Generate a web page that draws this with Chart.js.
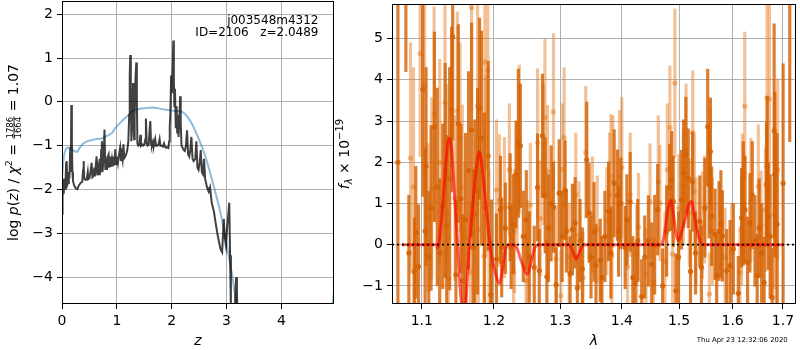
<!DOCTYPE html>
<html><head><meta charset="utf-8">
<script src="https://cdn.jsdelivr.net/npm/chart.js@4"></script>
<style>
html,body{margin:0;padding:0;background:#fff;}
#w{position:relative;width:800px;height:350px;overflow:hidden;background:#fff;}
#c1{position:absolute;left:0;top:0;}
#c2{position:absolute;left:335px;top:0;}
</style></head>
<body><div id="w"><canvas id="c1" width="340" height="350"></canvas><canvas id="c2" width="465" height="350"></canvas></div>
<script>
// ---------- left panel: log p(z) ----------
const zChi = [0.000,0.010,0.020,0.030,0.045,0.060,0.075,0.085,0.095,0.110,0.125,0.135,0.150,0.160,0.170,0.180,0.190,0.200,0.220,0.250,0.280,0.310,0.340,0.370,0.385,0.395,0.405,0.430,0.450,0.470,0.480,0.500,0.520,0.540,0.555,0.570,0.590,0.600,0.630,0.645,0.660,0.675,0.690,0.700,0.715,0.727,0.740,0.760,0.775,0.790,0.805,0.820,0.835,0.850,0.860,0.880,0.890,0.910,0.925,0.940,0.955,0.970,0.985,1.000,1.020,1.040,1.060,1.075,1.090,1.105,1.120,1.135,1.150,1.170,1.190,1.210,1.225,1.235,1.245,1.255,1.265,1.280,1.295,1.305,1.315,1.325,1.340,1.355,1.365,1.375,1.390,1.410,1.430,1.440,1.460,1.480,1.500,1.520,1.530,1.545,1.560,1.580,1.600,1.610,1.625,1.640,1.660,1.675,1.700,1.715,1.740,1.760,1.780,1.795,1.820,1.840,1.860,1.880,1.900,1.920,1.940,1.955,1.965,1.975,1.990,2.005,2.020,2.030,2.040,2.050,2.060,2.075,2.090,2.100,2.115,2.125,2.140,2.155,2.165,2.180,2.200,2.220,2.240,2.260,2.280,2.300,2.320,2.340,2.360,2.380,2.400,2.430,2.450,2.470,2.490,2.510,2.530,2.550,2.570,2.590,2.610,2.645,2.660,2.680,2.700,2.730,2.770,2.800,2.840,2.890,2.920,2.950,2.970,2.990,3.010,3.050,3.065,3.080,3.140,3.160,3.175,3.190,3.210,3.300];
const logpChi = [-2.55,-2.20,-1.75,-2.10,-1.85,-2.00,-1.40,-1.35,-1.90,-1.85,-1.60,-1.75,-1.05,-1.60,-0.07,-0.90,-1.60,-1.80,-1.90,-1.97,-1.99,-1.90,-1.85,-1.82,-1.55,-1.35,-1.75,-1.78,-1.77,-1.60,-1.76,-1.74,-1.60,-1.39,-1.72,-1.70,-1.50,-1.70,-1.24,-1.68,-1.50,-1.65,-1.30,-1.62,-1.10,-0.90,-1.60,-1.20,-0.63,-1.55,-1.40,-1.55,-1.25,-1.20,-1.50,-1.25,-1.48,-1.30,-1.47,-1.25,-1.45,-1.08,-1.42,-1.25,-1.40,-1.20,-1.05,-1.35,-1.20,-1.32,-0.97,-1.28,-1.25,-1.20,-1.10,-0.90,-0.30,0.60,1.07,0.00,-0.90,-0.50,0.43,-0.20,-0.85,-0.30,0.55,0.90,0.00,-0.95,-1.00,-0.98,-0.75,-1.00,-0.97,-1.00,-0.98,-0.85,-0.38,-0.95,-1.00,-0.98,-0.60,-0.44,-0.98,-1.00,-0.90,-1.00,-0.85,-1.00,-1.00,-0.97,-0.85,-1.00,-1.00,-1.02,-0.95,-1.03,-1.05,-1.03,-1.05,-0.90,-0.55,-0.30,0.60,0.20,0.90,1.40,0.50,-0.10,0.30,-0.60,-0.10,-0.70,-0.30,-0.80,-0.40,0.13,-0.50,-1.00,-1.05,-1.10,-1.12,-1.00,-0.65,-1.20,-1.25,-1.10,-0.80,-1.30,-1.35,-1.30,-0.90,-1.50,-1.55,-1.40,-1.10,-1.60,-1.65,-1.30,-1.75,-1.95,-2.00,-2.03,-1.95,-2.30,-2.50,-2.75,-3.05,-3.36,-3.43,-2.67,-3.10,-3.28,-2.90,-2.30,-3.50,-4.80,-5.50,-4.40,-4.00,-4.30,-5.50,-6.50];
const zPrior = [0.00,0.02,0.04,0.07,0.10,0.15,0.20,0.25,0.28,0.32,0.38,0.45,0.55,0.65,0.72,0.78,0.85,0.92,0.97,1.03,1.09,1.15,1.20,1.25,1.30,1.38,1.45,1.55,1.65,1.72,1.80,1.90,2.00,2.10,2.18,2.24,2.30,2.37,2.43,2.50,2.56,2.62,2.68,2.74,2.80,2.86,2.91,2.95,3.00,3.05,3.10,3.14,3.20,3.30,4.00,4.90,4.96];
const logpPrior = [-1.75,-1.40,-1.20,-1.08,-1.04,-1.05,-1.10,-1.14,-1.14,-1.05,-0.96,-0.90,-0.87,-0.84,-0.84,-0.80,-0.76,-0.70,-0.60,-0.52,-0.44,-0.37,-0.32,-0.25,-0.20,-0.17,-0.15,-0.14,-0.13,-0.14,-0.16,-0.18,-0.20,-0.21,-0.22,-0.27,-0.36,-0.50,-0.66,-0.86,-1.05,-1.27,-1.52,-1.80,-2.08,-2.37,-2.65,-2.90,-3.22,-3.58,-3.93,-4.27,-4.70,-5.50,-9.00,-5.20,-4.30];
const zTicks = [0,1,2,3,4];
const logpTicks = [-4,-3,-2,-1,0,1,2];

// ---------- right panel: spectrum ----------
const lamDark = [1.0688,1.0791,1.0830,1.0904,1.0921,1.0956,1.1013,1.1044,1.1057,1.1093,1.1124,1.1169,1.1207,1.1240,1.1281,1.1315,1.1335,1.1376,1.1403,1.1417,1.1462,1.1495,1.1531,1.1555,1.1596,1.1638,1.1680,1.1704,1.1726,1.1765,1.1793,1.1821,1.1864,1.1917,1.1954,1.1964,1.2036,1.2094,1.2112,1.2166,1.2236,1.2251,1.2285,1.2324,1.2358,1.2388,1.2432,1.2477,1.2522,1.2597,1.2647,1.2673,1.2723,1.2764,1.2790,1.2815,1.2856,1.2892,1.2934,1.2981,1.3028,1.3075,1.3095,1.3153,1.3190,1.3233,1.3269,1.3312,1.3349,1.3420,1.3457,1.3489,1.3538,1.3570,1.3640,1.3668,1.3717,1.3778,1.3816,1.3871,1.3928,1.3945,1.3983,1.4056,1.4085,1.4141,1.4186,1.4225,1.4271,1.4339,1.4391,1.4455,1.4513,1.4565,1.4618,1.4705,1.4776,1.4829,1.4865,1.4895,1.4942,1.4990,1.5044,1.5081,1.5123,1.5167,1.5208,1.5245,1.5300,1.5378,1.5409,1.5474,1.5526,1.5552,1.5577,1.5601,1.5665,1.5695,1.5740,1.5775,1.5804,1.5886,1.5951,1.6014,1.6110,1.6174,1.6208,1.6241,1.6291,1.6338,1.6383,1.6436,1.6481,1.6520,1.6570,1.6620,1.6666,1.6680,1.6700,1.6740,1.6780,1.6821,1.6835,1.6882,1.7004,1.7140];
const fluxDark = [2.0,6.6,-0.2,-0.65,0.3,-0.53,3.77,0.33,1.9,-0.3,0.89,2.86,1.4,-0.2,0.93,1.8,0.45,1.6,3.28,5.04,-0.73,2.94,1.12,-0.87,0.6,1.8,2.78,-0.07,0.73,1.3,3.3,2.58,0.9,2.15,-1.21,-0.51,-0.35,0.85,-0.07,0.4,0.91,-0.07,0.5,1.7,2.46,2.4,0.2,0.6,-0.3,-0.55,1.39,-0.63,2.64,1.2,-0.78,0.4,1.0,0.91,-0.97,1.25,0.2,1.32,0.33,-0.71,0.37,0.53,-1.05,0.1,-0.59,2.06,0.77,-0.3,0.31,-0.5,-0.38,-0.8,0.2,0.81,-0.2,1.49,1.2,0.33,1.0,-0.07,0.6,1.04,-0.8,-0.95,0.1,-1.26,-0.3,0.09,-0.47,0.0,0.85,-1.0,0.33,1.38,1.55,1.05,-1.12,-0.3,1.09,1.73,2.18,1.61,-0.65,1.53,-0.2,0.57,-0.55,0.9,2.86,1.46,2.26,0.69,0.25,-0.75,0.33,0.5,0.21,-0.63,-0.51,-0.1,-1.18,0.65,1.0,0.85,-0.43,0.53,1.2,0.09,-0.75,0.4,-0.2,-0.92,1.46,1.9,0.69,0.2,-1.28,2.76,1.7,0.5,1.49,6.0];
const errDark = [5.5,2.4,1.4,1.3,1.6,1.5,2.6,2.0,2.4,1.6,2.0,2.3,2.4,1.8,2.0,2.6,2.2,2.7,2.0,2.5,1.8,2.4,1.8,1.6,2.1,2.4,2.6,1.9,2.3,2.5,2.2,2.6,2.3,2.3,1.3,1.6,1.1,1.3,1.2,1.1,1.3,1.0,1.2,1.3,1.8,1.5,1.1,1.2,1.1,1.0,1.3,1.0,1.5,1.4,0.9,1.3,1.4,1.1,0.9,1.3,1.1,1.2,1.0,0.9,1.1,1.1,0.8,1.0,1.0,1.4,1.2,1.0,1.2,1.0,1.0,1.0,1.1,1.2,1.1,1.3,1.1,1.1,1.1,1.0,1.1,1.2,1.0,1.0,1.0,0.9,1.0,1.1,1.0,1.2,1.1,0.9,1.1,1.05,1.2,1.1,0.9,1.1,1.2,1.3,1.4,1.2,1.0,1.2,1.0,1.1,1.0,1.2,1.4,1.3,1.3,1.2,1.1,1.0,1.2,1.3,1.1,1.0,1.1,1.1,0.9,1.2,1.5,1.3,1.1,1.2,1.3,1.1,1.0,1.2,1.2,1.1,1.5,1.7,1.3,1.5,1.2,2.6,2.0,2.2,2.9,3.5];
const lamLight = [1.0852,1.0891,1.0978,1.1036,1.1080,1.1133,1.1164,1.1240,1.1312,1.1342,1.1358,1.1449,1.1482,1.1518,1.1551,1.1583,1.1666,1.1680,1.1765,1.1775,1.1857,1.1869,1.1883,1.1911,1.1928,1.2036,1.2079,1.2152,1.2225,1.2288,1.2299,1.2339,1.2373,1.2472,1.2497,1.2537,1.2648,1.2688,1.2738,1.2760,1.2800,1.2892,1.2934,1.3007,1.3032,1.3059,1.3138,1.3244,1.3296,1.3360,1.3404,1.3510,1.3591,1.3749,1.3794,1.3816,1.3833,1.3849,1.3961,1.4000,1.4096,1.4141,1.4254,1.4284,1.4414,1.4483,1.4542,1.4629,1.4658,1.4746,1.4789,1.4835,1.4883,1.4924,1.4995,1.5077,1.5126,1.5186,1.5249,1.5278,1.5310,1.5428,1.5465,1.5558,1.5572,1.5615,1.5855,1.5981,1.6142,1.6174,1.6188,1.6235,1.6357,1.6503,1.6556,1.6644,1.6677,1.6725,1.6826,1.6858,1.6892];
const fluxLight = [2.1,1.4,4.64,3.88,0.65,1.37,3.17,2.0,3.45,1.7,-0.83,1.13,3.25,2.6,1.39,0.2,-0.67,5.75,3.37,0.37,-0.27,4.43,1.9,4.23,-0.08,1.33,1.07,0.9,1.82,-0.67,0.33,1.5,2.56,-0.87,-0.23,0.96,2.47,0.64,2.18,3.08,1.78,3.22,-0.35,-1.24,1.82,2.6,-0.3,1.21,0.23,-0.8,2.24,0.73,0.37,0.57,1.21,1.66,-0.27,1.53,1.66,1.87,-0.55,1.21,-0.23,0.43,-0.71,1.05,-0.92,1.53,1.01,-0.4,1.82,2.84,-0.23,3.92,0.89,1.41,2.3,0.77,2.72,1.29,0.33,0.47,0.85,-1.2,1.78,0.33,-0.31,-0.19,-0.67,0.33,1.19,3.36,1.08,1.41,0.49,0.85,3.56,3.53,0.73,0.49,1.82];
const errLight = [2.8,2.9,2.5,2.3,1.8,2.2,2.6,2.5,2.4,2.2,1.7,2.0,2.4,2.3,2.0,1.8,1.7,2.5,2.6,2.0,1.8,2.5,2.2,2.4,1.9,1.7,1.6,1.7,1.6,1.2,1.5,1.5,1.8,1.2,1.3,1.5,1.8,1.4,1.7,1.9,1.6,1.9,1.3,1.1,1.6,1.7,1.3,1.5,1.3,1.1,1.6,1.4,1.3,1.3,1.5,1.5,1.2,1.6,1.6,1.7,1.2,1.5,1.2,1.3,1.1,1.4,1.1,1.6,1.4,1.2,1.6,1.5,1.3,1.8,1.3,1.4,1.6,1.3,1.5,1.4,1.3,1.3,1.3,1.0,1.5,1.3,1.2,1.2,1.1,1.3,1.5,1.8,1.5,1.5,1.3,1.5,2.3,2.4,1.8,1.9,2.2];
const lamModel = [1.0739,1.1200,1.1213,1.1254,1.1308,1.1349,1.1376,1.1403,1.1444,1.1486,1.1527,1.1569,1.1596,1.1638,1.1694,1.1751,1.1793,1.1835,1.1893,1.1950,1.2022,1.2079,1.2123,1.2181,1.2225,1.2284,1.2328,1.2402,1.2492,1.2552,1.2613,1.2673,1.3138,1.3185,1.3248,1.3312,1.3376,1.4670,1.4723,1.4793,1.4847,1.4901,1.4955,1.4990,1.5044,1.5117,1.5172,1.5226,1.5281,1.5355,1.5428,1.7004];
const fluxModel = [0,0,-0.08,0.4,1.6,2.45,2.58,2.3,1.2,0.0,-1.2,-1.75,-1.5,-0.3,0.9,1.9,2.25,1.8,0.8,-0.1,-0.7,-0.95,-0.6,-0.05,0,0,-0.05,-0.4,-0.72,-0.4,-0.05,0,0,-0.12,-0.35,-0.15,0,0,0.15,0.8,1.08,0.7,0.2,0.1,0.3,0.65,0.95,1.05,0.7,0.2,0,0];
const lamTicks = [1.1,1.2,1.3,1.4,1.5,1.6,1.7];
const fluxTicks = [-1,0,1,2,3,4,5];

Chart.defaults.font.family = "'DejaVu Sans'";
Chart.defaults.font.size = 14;
Chart.defaults.color = '#000';

const minus = v => (v < 0 ? '\u2212' : '') + Math.abs(v);
const gridOpt = {color:'#b0b0b0', lineWidth:1, tickLength:5, tickColor:'#000', tickWidth:1, drawTicks:true};
const fitX = s => { s.height = 46; s.paddingLeft = 0; s.paddingRight = 0; };
const fitY = w => s => { s.width = w; s.paddingTop = 0; s.paddingBottom = 0; };

function drawParts(ctx, cx, cy, parts, rotate) {
  ctx.save();
  ctx.translate(cx, cy);
  if (rotate) ctx.rotate(-Math.PI/2);
  ctx.textBaseline = 'alphabetic';
  ctx.fillStyle = '#000';
  let total = 0;
  for (const p of parts) {
    ctx.font = p.f;
    p.w = p.frac ? Math.max(ctx.measureText(p.frac[0]).width, ctx.measureText(p.frac[1]).width) + 2 : ctx.measureText(p.t).width;
    total += p.w;
  }
  let x = -total/2;
  for (const p of parts) {
    ctx.font = p.f;
    if (p.frac) {
      ctx.textAlign = 'center';
      ctx.fillText(p.frac[0], x + p.w/2, p.ny);
      ctx.fillText(p.frac[1], x + p.w/2, p.dy2);
      ctx.fillRect(x + 0.5, p.by - 0.4, p.w - 1, 0.8);
    } else {
      ctx.textAlign = 'left';
      ctx.fillText(p.t, x, p.dy || 0);
    }
    x += p.w;
  }
  ctx.restore();
}

const R = "14px 'DejaVu Sans'", I = "oblique 14px 'DejaVu Sans'";

const leftPlugin = {
  id: 'leftDeco',
  afterDraw(chart) {
    const ctx = chart.ctx, a = chart.chartArea;
    ctx.save();
    ctx.strokeStyle = '#000'; ctx.lineWidth = 1;
    ctx.strokeRect(a.left + 0.5, a.top + 0.5, a.right - a.left - 1, a.bottom - a.top - 1);
    ctx.fillStyle = '#000';
    ctx.font = "12px 'DejaVu Sans'";
    ctx.textAlign = 'right'; ctx.textBaseline = 'alphabetic';
    ctx.fillText('j003548m4312', 318.5, 24.3);
    ctx.fillText('ID=2106   z=2.0489', 318.5, 36);
    ctx.restore();
    drawParts(ctx, (a.left + a.right)/2, 345, [{t:'z', f:I}], false);
    drawParts(ctx, 18, (a.top + a.bottom)/2, [
      {t:'log ', f:R}, {t:'p', f:I}, {t:'(', f:R}, {t:'z', f:I}, {t:')', f:R}, {t:' / ', f:R},
      {t:'\u03C7', f:I}, {t:'2', f:"9.5px 'DejaVu Sans'", dy:-6}, {t:' = ', f:R},
      {frac:['1786','1664'], f:"8.5px 'DejaVu Sans'", ny:-5.3, dy2:3.2, by:-4},
      {t:' = 1.07', f:R}
    ], true);
  }
};

const rightPlugin = {
  id: 'rightDeco',
  afterDraw(chart) {
    const ctx = chart.ctx, a = chart.chartArea;
    ctx.save();
    ctx.strokeStyle = '#000'; ctx.lineWidth = 1;
    ctx.strokeRect(a.left + 0.5, a.top + 0.5, a.right - a.left - 1, a.bottom - a.top - 1);
    ctx.fillStyle = '#000';
    ctx.font = "6.9px 'DejaVu Sans'";
    ctx.textAlign = 'right'; ctx.textBaseline = 'alphabetic';
    ctx.fillText('Thu Apr 23 12:32:06 2020', 787.7 - 335, 341.5);
    ctx.restore();
    drawParts(ctx, (a.left + a.right)/2, 345, [{t:'\u03BB', f:I}], false);
    drawParts(ctx, 349 - 335, (a.top + a.bottom)/2, [
      {t:'f', f:I}, {t:'\u03BB', f:"oblique 10px 'DejaVu Sans'", dy:3},
      {t:' \u00D7 10', f:R}, {t:'\u221219', f:"10px 'DejaVu Sans'", dy:-6}
    ], true);
  }
};

new Chart(document.getElementById('c1'), {
  type: 'line',
  data: { datasets: [
    { data: zChi.map((z,i)=>({x:z, y:logpChi[i]})), borderColor:'rgba(0,0,0,0.75)', borderWidth:2, pointRadius:0, tension:0, order:0 },
    { data: zPrior.map((z,i)=>({x:z, y:logpPrior[i]})), borderColor:'rgba(31,119,180,0.5)', borderWidth:2, pointRadius:0, tension:0, order:1 }
  ]},
  options: {
    responsive:false, animation:false, events:[],
    layout:{padding:{top:1, right:6, left:0, bottom:0}},
    plugins:{legend:{display:false}, tooltip:{enabled:false}},
    scales:{
      x:{type:'linear', min:0, max:4.96, grid:gridOpt, border:{display:false},
         afterBuildTicks:s=>{s.ticks = zTicks.map(v=>({value:v}));},
         afterFit:fitX,
         ticks:{padding:4, maxRotation:0, autoSkip:false, callback:v=>minus(v)}},
      y:{type:'linear', min:-4.61, max:2.30, grid:gridOpt, border:{display:false},
         afterBuildTicks:s=>{s.ticks = logpTicks.map(v=>({value:v}));},
         afterFit:fitY(62),
         ticks:{padding:4, autoSkip:false, callback:v=>minus(v)}}
    }
  },
  plugins:[leftPlugin]
});

new Chart(document.getElementById('c2'), {
  type: 'scatter',
  data: { datasets: [
    { type:'line', data:[{x:1.0612,y:0},{x:1.727,y:0}], borderColor:'#000', borderWidth:1.6, borderDash:[2,3], pointRadius:0, order:0 },
    { type:'line', data: lamModel.map((l,i)=>({x:l, y:fluxModel[i]})), borderColor:'rgba(255,0,0,0.62)', borderWidth:3, pointRadius:0, cubicInterpolationMode:'monotone', order:1 },
    { type:'scatter', data: lamDark.map((l,i)=>({x:l, y:fluxDark[i]})), backgroundColor:'rgba(212,98,4,0.88)', borderWidth:0, pointRadius:2.6, order:2 },
    { type:'bar', data: lamDark.map((l,i)=>({x:l, y:[fluxDark[i]-errDark[i], fluxDark[i]+errDark[i]]})), backgroundColor:'rgba(212,98,4,0.82)', borderWidth:0, barThickness:2.5, grouped:false, order:3 },
    { type:'scatter', data: lamLight.map((l,i)=>({x:l, y:fluxLight[i]})), backgroundColor:'rgba(230,126,34,0.5)', borderWidth:0, pointRadius:2.6, order:4 },
    { type:'bar', data: lamLight.map((l,i)=>({x:l, y:[fluxLight[i]-errLight[i], fluxLight[i]+errLight[i]]})), backgroundColor:'rgba(230,126,34,0.48)', borderWidth:0, barThickness:2.5, grouped:false, order:5 }
  ]},
  options: {
    responsive:false, animation:false, events:[],
    layout:{padding:{top:1, right:1, left:0, bottom:0}},
    plugins:{legend:{display:false}, tooltip:{enabled:false}},
    scales:{
      x:{type:'logarithmic', min:1.0612, max:1.727, offset:false, grid:Object.assign({offset:false}, gridOpt), border:{display:false},
         afterBuildTicks:s=>{s.ticks = lamTicks.map(v=>({value:v}));},
         afterFit:fitX,
         ticks:{padding:4, maxRotation:0, autoSkip:false, callback:v=>Number(v).toFixed(1)}},
      y:{type:'linear', min:-1.44, max:5.84, grid:gridOpt, border:{display:false},
         afterBuildTicks:s=>{s.ticks = fluxTicks.map(v=>({value:v}));},
         afterFit:fitY(57),
         ticks:{padding:4, autoSkip:false, callback:v=>minus(v)}}
    }
  },
  plugins:[rightPlugin]
});
</script>
</body></html>
